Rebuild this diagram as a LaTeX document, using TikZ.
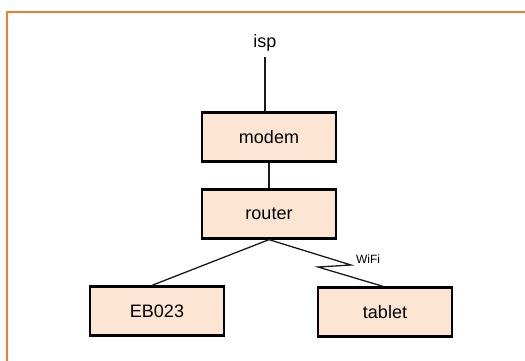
\documentclass[tikz,border=0pt]{standalone}
\usepackage{fontspec}
\setmainfont{Liberation Sans}
\usepackage{tikz}
\definecolor{frameorange}{HTML}{EF7F2E}
\definecolor{boxpeach}{HTML}{FCE5D3}
\definecolor{darkgray}{HTML}{1A1A1A}

\begin{document}
\begin{tikzpicture}[x=1pt,y=-1pt,
  netbox/.style={draw=black,fill=boxpeach,line width=2.3pt,minimum width=134pt,
    minimum height=49pt,inner sep=0pt,font=\fontsize{18}{20}\selectfont},
  link/.style={darkgray,line width=1.3pt}]
  \useasboundingbox (0,0) rectangle (525,361);
  \draw[frameorange,line width=2.6pt] (7,361) -- (7,12) -- (525,12);
  \node[font=\fontsize{18}{20}\selectfont] (isp) at (265,43) {isp};
  \node[netbox] (modem) at (269,137) {modem};
  \node[netbox] (router) at (269,214) {router};
  \node[netbox] (eb) at (157,311) {EB023};
  \node[netbox] (tablet) at (385,312) {tablet};
  \coordinate (wa) at (351,265);
  \coordinate (wb) at (318,267);
  \draw[link] (265,57) -- (modem.north -| 265,0);
  \draw[link] (modem) -- (router);
  \draw[link] (router.south) -- (eb.north -| 152,0);
  \draw[link] (router.south) -- (wa) -- (wb) -- (tablet.north -| 383,0);
  \node[font=\fontsize{12}{14}\selectfont] (wifi) at (368,259) {WiFi};
\end{tikzpicture}
\end{document}
